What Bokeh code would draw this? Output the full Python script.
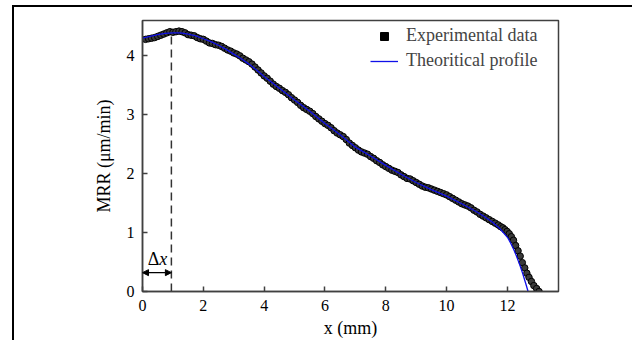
from bokeh.plotting import figure
from bokeh.models import (FixedTicker, Label, Arrow, NormalHead, Legend, LegendItem,
                          Spacer)
from bokeh.layouts import column, row
from bokeh.embed import file_html
from bokeh.resources import INLINE

# ---------------- data ----------------
exp_x = [0.1, 0.2, 0.3, 0.4, 0.5, 0.6, 0.7, 0.8, 0.9, 1.0,
         1.1, 1.2, 1.3, 1.4, 1.5, 1.6, 1.7, 1.8, 1.9, 2.0,
         2.1, 2.2, 2.3, 2.4, 2.5, 2.6, 2.7, 2.8, 2.9, 3.0,
         3.1, 3.2, 3.3, 3.4, 3.5, 3.6, 3.7, 3.8, 3.9, 4.0,
         4.1, 4.2, 4.3, 4.4, 4.5, 4.6, 4.7, 4.8, 4.9, 5.0,
         5.1, 5.2, 5.3, 5.4, 5.5, 5.6, 5.7, 5.8, 5.9, 6.0,
         6.1, 6.2, 6.3, 6.4, 6.5, 6.6, 6.7, 6.8, 6.9, 7.0,
         7.1, 7.2, 7.3, 7.4, 7.5, 7.6, 7.7, 7.8, 7.9, 8.0,
         8.1, 8.2, 8.3, 8.4, 8.5, 8.6, 8.7, 8.8, 8.9, 9.0,
         9.1, 9.2, 9.3, 9.4, 9.5, 9.6, 9.7, 9.8, 9.9, 10.0,
         10.1, 10.2, 10.3, 10.4, 10.5, 10.6, 10.7, 10.8, 10.9, 11.0,
         11.1, 11.2, 11.3, 11.4, 11.5, 11.6, 11.7,
         11.78, 11.85, 11.92, 11.99, 12.06, 12.13, 12.2, 12.27, 12.35,
         12.42, 12.49, 12.57, 12.64, 12.71, 12.79, 12.87, 12.96, 13.04]
exp_y = [4.28, 4.29, 4.30, 4.31, 4.33, 4.35, 4.37, 4.39, 4.41, 4.40,
         4.41, 4.42, 4.41, 4.39, 4.36, 4.35, 4.34, 4.31, 4.29, 4.28,
         4.25, 4.22, 4.21, 4.19, 4.18, 4.16, 4.13, 4.10, 4.08, 4.05,
         4.03, 4.00, 3.96, 3.93, 3.90, 3.86, 3.81, 3.76, 3.71, 3.66,
         3.62, 3.57, 3.52, 3.48, 3.45, 3.41, 3.38, 3.34, 3.29, 3.25,
         3.21, 3.16, 3.12, 3.09, 3.06, 3.02, 2.97, 2.93, 2.89, 2.85,
         2.82, 2.78, 2.73, 2.69, 2.66, 2.63, 2.58, 2.52, 2.48, 2.44,
         2.40, 2.37, 2.35, 2.33, 2.29, 2.26, 2.22, 2.19, 2.15, 2.12,
         2.09, 2.06, 2.04, 2.02, 1.98, 1.95, 1.92, 1.91, 1.88, 1.85,
         1.82, 1.79, 1.77, 1.76, 1.74, 1.72, 1.70, 1.68, 1.66, 1.64,
         1.61, 1.58, 1.55, 1.52, 1.49, 1.47, 1.45, 1.42, 1.38, 1.35,
         1.31, 1.28, 1.25, 1.22, 1.19, 1.16, 1.13,
         1.10, 1.08, 1.05, 1.02, 0.98, 0.93, 0.87, 0.78, 0.69,
         0.60, 0.49, 0.40, 0.31, 0.24, 0.17, 0.10, 0.05, 0.00]

theo_x = [0.0, 0.25, 0.5, 0.75, 1.0, 1.25, 1.5, 1.75, 2.0, 2.25, 2.5, 2.75,
          3.0, 3.25, 3.5, 3.75, 4.0, 4.5, 5.0, 5.5, 6.0, 6.5, 7.0, 7.5,
          8.0, 8.5, 9.0, 9.5, 10.0, 10.5, 11.0, 11.25, 11.5, 11.75,
          12.0, 12.1, 12.2, 12.3, 12.4, 12.5, 12.6, 12.68]
theo_y = [4.30, 4.33, 4.36, 4.38, 4.39, 4.39, 4.37, 4.34, 4.29, 4.24, 4.18, 4.11,
          4.03, 3.95, 3.86, 3.76, 3.65, 3.45, 3.25, 3.06, 2.85, 2.66, 2.45, 2.30,
          2.14, 1.99, 1.85, 1.73, 1.62, 1.49, 1.35, 1.27, 1.18, 1.07,
          0.92, 0.83, 0.72, 0.60, 0.46, 0.31, 0.14, 0.0]

x_ticks = [0, 2, 4, 6, 8, 10, 12]
y_ticks = [0, 1, 2, 3, 4]
delta_x = 0.95
delta_top = 4.39
arrow_y = 0.32

FONT = "Liberation Serif"

p = figure(width=618, height=333, output_backend="svg", toolbar_location=None,
           x_range=(0, 13.68), y_range=(0, 4.6),
           min_border_left=128, min_border_right=74,
           min_border_top=13, min_border_bottom=48)
p.background_fill_color = "white"
p.border_fill_color = "white"
p.outline_line_color = "#404040"
p.outline_line_width = 1.5
p.xgrid.visible = False
p.ygrid.visible = False

for ax in (p.xaxis[0], p.yaxis[0]):
    ax.axis_line_color = "#404040"
    ax.axis_line_width = 1.5
    ax.major_tick_in = 5
    ax.major_tick_out = 0
    ax.major_tick_line_color = "#404040"
    ax.major_tick_line_width = 1.5
    ax.minor_tick_line_color = None
    ax.major_label_text_font = FONT
    ax.major_label_text_font_size = "16px"
    ax.major_label_text_color = "black"
    ax.major_label_standoff = 8
    ax.axis_label_text_font = FONT
    ax.axis_label_text_font_size = "18px"
    ax.axis_label_text_font_style = "normal"
    ax.axis_label_text_color = "black"

p.xaxis.ticker = FixedTicker(ticks=x_ticks)
p.yaxis.ticker = FixedTicker(ticks=y_ticks)
p.yaxis.axis_label = "MRR (μm/min)"
p.yaxis.axis_label_standoff = 10
p.xaxis.axis_label = "x (mm)"
p.xaxis.axis_label_standoff = 4

# vertical dashed line
p.segment(x0=[delta_x], y0=[0], x1=[delta_x], y1=[delta_top], line_color="#333333",
          line_width=1.5, line_dash="8 5")

# double arrow with label
p.add_layout(Arrow(x_start=0, y_start=arrow_y, x_end=delta_x, y_end=arrow_y,
                   line_color="black", line_width=1.3,
                   start=NormalHead(size=6, fill_color="black", line_color="black"),
                   end=NormalHead(size=6, fill_color="black", line_color="black")))
p.add_layout(Label(x=0.17, y=0.56, text="Δ", text_font=FONT, text_font_size="18px",
                   text_color="black", text_align="left", text_baseline="alphabetic"))
p.add_layout(Label(x=0.55, y=0.56, text="x", text_font=FONT, text_font_size="18px",
                   text_font_style="italic", text_color="black", text_align="left",
                   text_baseline="alphabetic"))

# data
p.scatter(exp_x, exp_y, marker="circle", size=6.5, fill_color="#3a3a3a",
          line_color="black", line_width=1)
theo = p.line(theo_x, theo_y, line_color="#1010e8", line_width=1.3)

# legend proxy (point outside the visible range)
legend_sq = p.scatter(x=[-5], y=[-5], marker="square", size=6, fill_color="black",
                      line_color="black")

legend = Legend(items=[LegendItem(label="Experimental data", renderers=[legend_sq]),
                       LegendItem(label="Theoritical profile", renderers=[theo])],
                location=(228, 220), border_line_color=None,
                background_fill_alpha=0, label_text_font=FONT,
                label_text_font_size="18px", glyph_width=28, glyph_height=20,
                label_standoff=8, spacing=4, padding=2, margin=0)
p.add_layout(legend)

# outer frame: top and left black strips around the figure
BLACK = {"background-color": "black"}
layout = column(
    Spacer(width=632, height=5),
    row(Spacer(width=12, height=2), Spacer(width=620, height=2, styles=BLACK)),
    row(Spacer(width=12, height=333), Spacer(width=2, height=333, styles=BLACK), p),
)

open("out.html", "w").write(file_html(layout, INLINE))
